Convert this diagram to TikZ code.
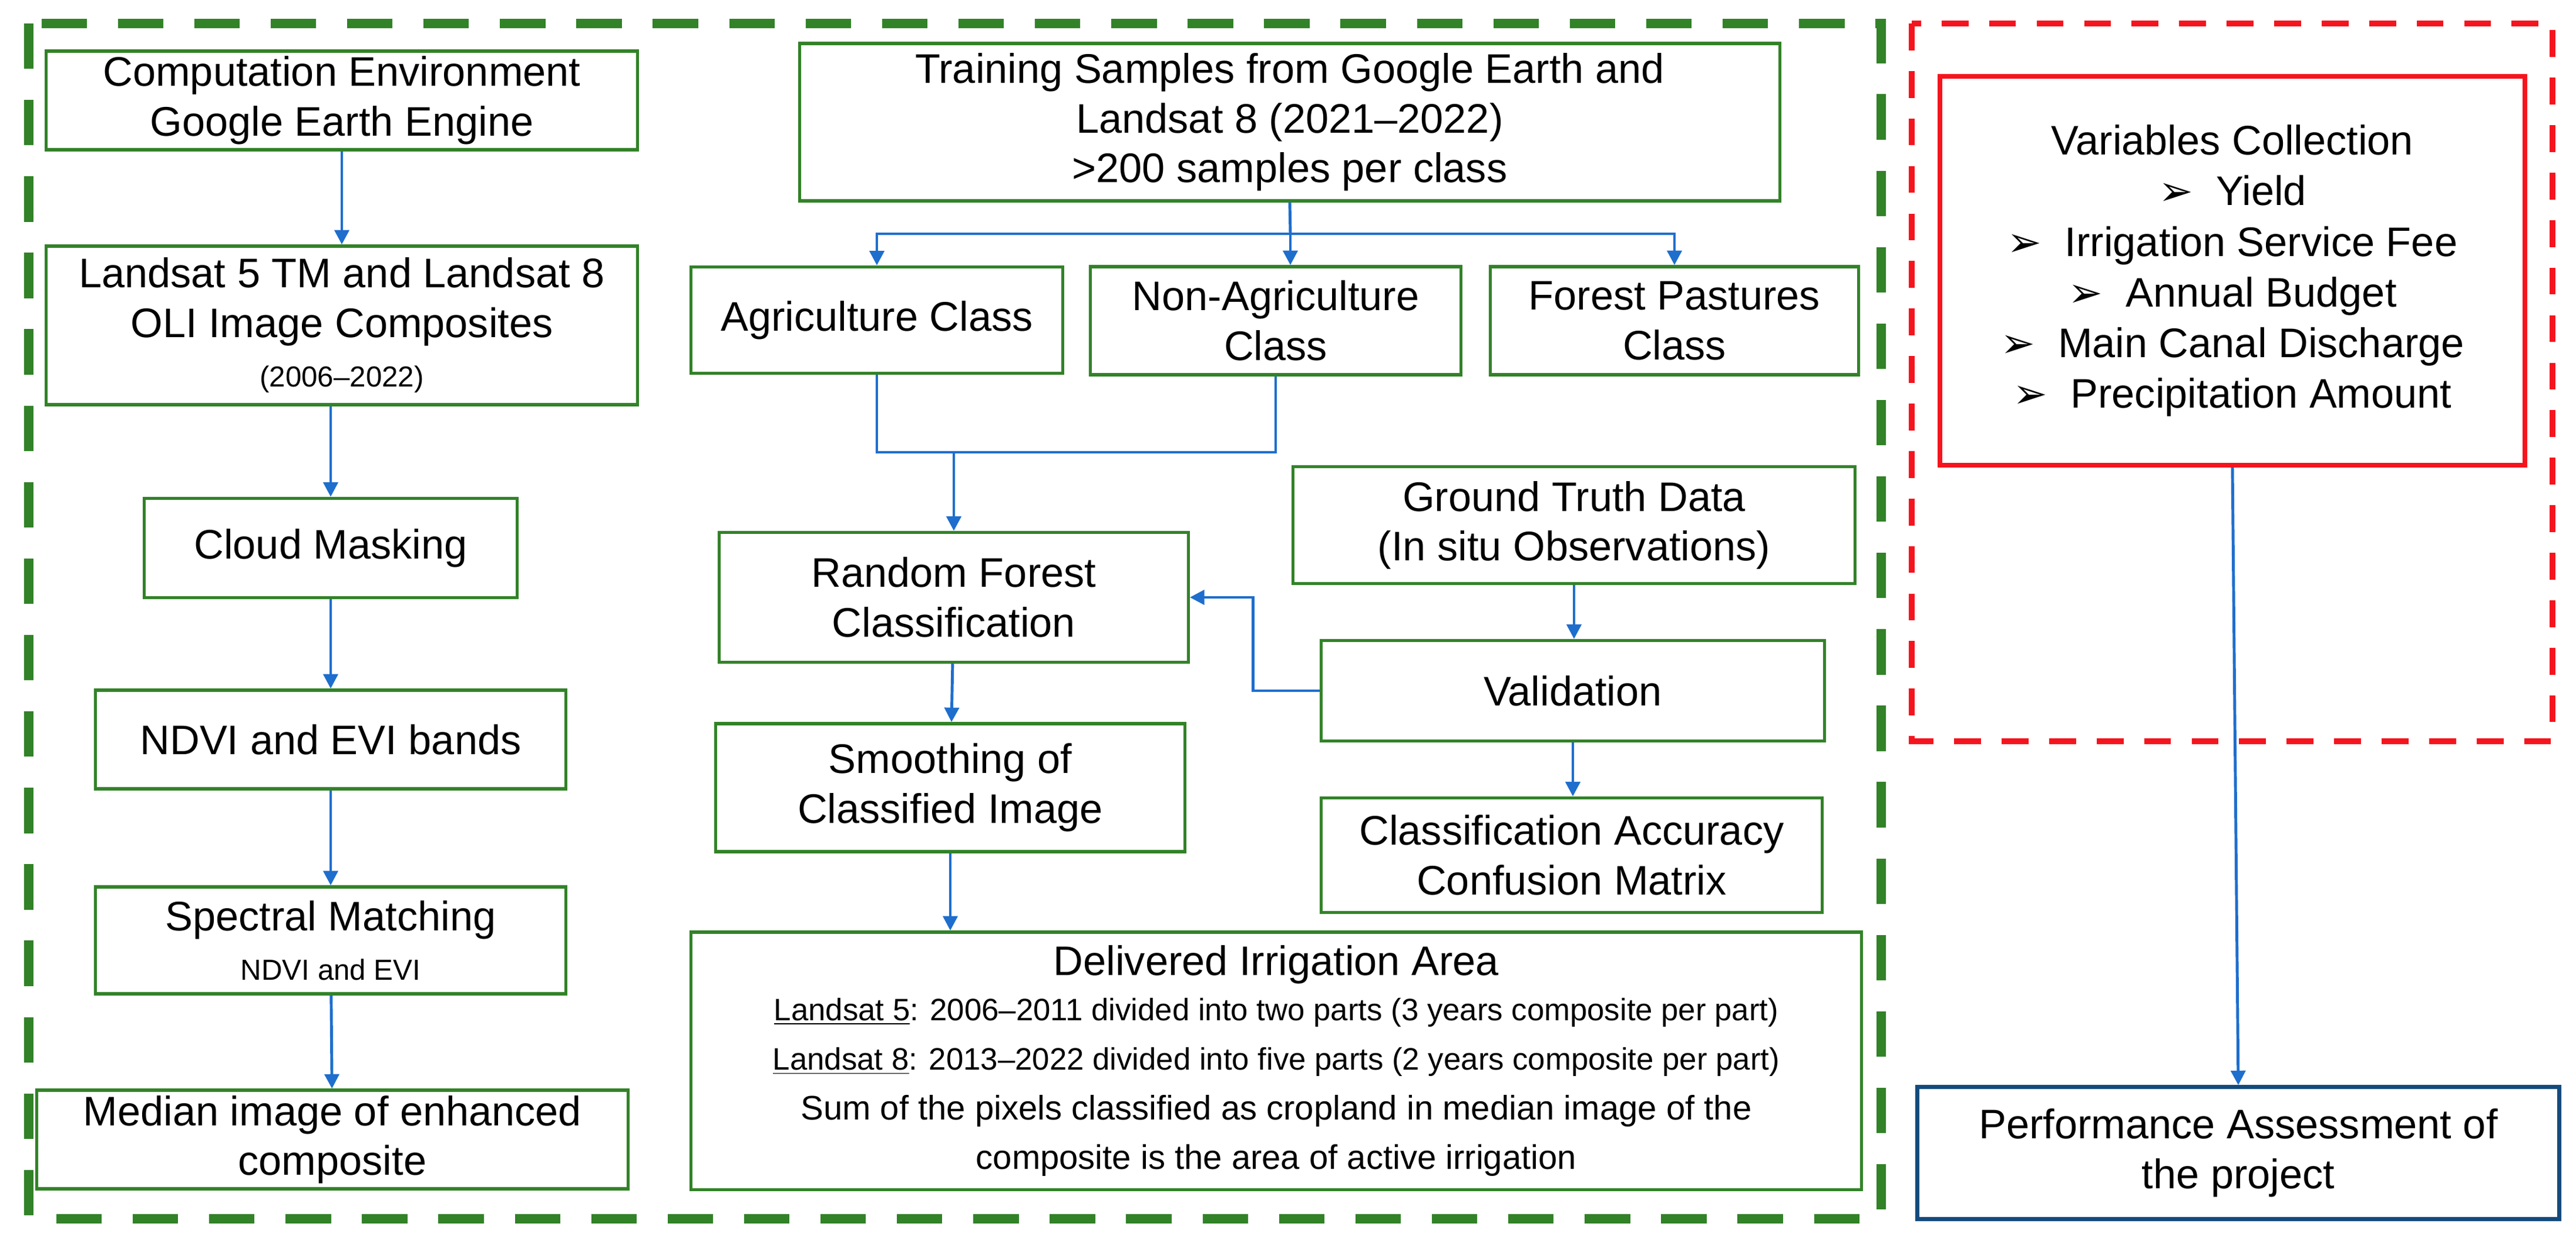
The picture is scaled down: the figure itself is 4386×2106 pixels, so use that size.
\documentclass[tikz,border=0pt]{standalone}
\usepackage{fontspec}
\setmainfont{Liberation Sans}
\newfontfamily\dv{DejaVu Sans}
\usetikzlibrary{arrows.meta,calc}
\definecolor{gr}{RGB}{50,130,40}
\definecolor{bl}{RGB}{30,110,205}
\definecolor{rd}{RGB}{245,20,30}
\definecolor{db}{RGB}{20,75,125}
\begin{document}
\begin{tikzpicture}[x=0.01cm,y=-0.01cm,
  box/.style={draw=gr,line width=1.5pt,align=center,inner sep=0pt,font=\fontsize{20}{24}\selectfont},
  arr/.style={draw=bl,line width=1.4pt,-{Triangle[length=7pt,width=7pt]}},
  ln/.style={draw=bl,line width=1.4pt}]
\useasboundingbox (0,0) rectangle (4386,2106);
\draw[gr,line width=4.3pt,dash pattern=on 22pt off 15pt] (49,40) rectangle (3203,2075);
\draw[rd,line width=3pt,dash pattern=on 13pt off 10pt] (3255,40) rectangle (4346,1262);
% left column
\node[box,minimum width=10.06cm,minimum height=1.68cm] (ce) at (582,171) {Computation Environment\\Google Earth Engine};
\node[box,minimum width=10.06cm,minimum height=2.70cm] (ls) at (582,554) {Landsat 5 TM and Landsat 8\\OLI Image Composites\\{\fontsize{14}{17}\selectfont(2006--2022)}};
\node[box,minimum width=6.34cm,minimum height=1.69cm] (cm) at (563,933) {Cloud Masking};
\node[box,minimum width=8.01cm,minimum height=1.68cm] (nd) at (563,1259) {NDVI and EVI bands};
\node[box,minimum width=8.01cm,minimum height=1.82cm] (sp) at (563,1601) {Spectral Matching\\{\fontsize{14}{17}\selectfont NDVI and EVI}};
\node[box,minimum width=10.07cm,minimum height=1.68cm] (me) at (566,1940) {Median image of enhanced\\composite};
\draw[arr] (ce) -- (ls);
\draw[arr] (ls.south -| cm.north) -- (cm.north);
\draw[arr] (cm) -- (nd);
\draw[arr] (nd) -- (sp);
\draw[arr] (sp) -- (me);
% middle
\node[box,minimum width=16.68cm,minimum height=2.68cm] (tr) at (2196,208) {Training Samples from Google Earth and\\Landsat 8 (2021--2022)\\>200 samples per class};
\node[box,minimum width=6.32cm,minimum height=1.81cm] (ag) at (1493,545) {Agriculture Class};
\node[box,minimum width=6.31cm,minimum height=1.84cm] (na) at (2172,546) {Non-Agriculture\\Class};
\node[box,minimum width=6.27cm,minimum height=1.84cm] (fp) at (2851,546) {Forest Pastures\\Class};
\coordinate (br) at (2197,398);
\draw[ln] (tr.south) -- (br);
\draw[arr] (br) -| (ag.north);
\draw[arr] (br) -| (fp.north);
\draw[arr] (br) -- (br |- na.north);
\node[box,minimum width=7.98cm,minimum height=2.21cm] (rf) at (1624,1017) {Random Forest\\Classification};
\coordinate (mg) at (1624,770);
\draw[ln] (ag.south) |- (mg);
\draw[ln] (na.south) |- (mg);
\draw[arr] (mg) -- (rf.north);
\node[box,minimum width=9.57cm,minimum height=1.99cm] (gt) at (2680,894) {Ground Truth Data\\(In situ Observations)};
\node[box,minimum width=8.56cm,minimum height=1.71cm] (va) at (2678,1176) {Validation};
\node[box,minimum width=8.53cm,minimum height=1.95cm] (ca) at (2676,1456) {Classification Accuracy\\Confusion Matrix};
\draw[arr] (gt) -- (gt.south |- va.north);
\draw[arr] (va) -- (va.south |- ca.north);
\draw[arr] (va.west) -- ++(-114,0) |- (rf.east);
\node[box,minimum width=7.99cm,minimum height=2.18cm] (sm) at (1618,1341) {Smoothing of\\Classified Image};
\draw[arr] (rf) -- (sm);
\node[box,minimum width=19.92cm,minimum height=4.38cm] (de) at (2173,1806) {Delivered Irrigation Area\\[-2pt]
{\fontsize{15}{22}\selectfont \underline{Landsat 5}: 2006--2011 divided into two parts (3 years composite per part)}\\
{\fontsize{15}{22}\selectfont \underline{Landsat 8}: 2013--2022 divided into five parts (2 years composite per part)}\\
{\fontsize{16.5}{22}\selectfont Sum of the pixels classified as cropland in median image of the}\\
{\fontsize{16.5}{22}\selectfont composite is the area of active irrigation}};
\draw[arr] (sm.south) -- (sm.south |- de.north);
% right
\node[draw=rd,line width=2.2pt,align=center,inner sep=0pt,minimum width=9.96cm,minimum height=6.62cm,font=\fontsize{20}{24.5}\selectfont] (vc) at (3801,461)
 {Variables Collection\\{\dv ➢}\ \ Yield\\{\dv ➢}\ \ Irrigation Service Fee\\{\dv ➢}\ \ Annual Budget\\{\dv ➢}\ \ Main Canal Discharge\\{\dv ➢}\ \ Precipitation Amount};
\node[draw=db,line width=2pt,align=center,inner sep=0pt,minimum width=10.93cm,minimum height=2.24cm,font=\fontsize{20}{24}\selectfont] (pa) at (3811,1963) {Performance Assessment of\\the project};
\draw[arr] (vc.south) -- (pa.north);
\draw[ln] ($(de.east)+(0,-36)$) -- ($(de.east)+(0,-36)$ -| pa.north);
\end{tikzpicture}
\end{document}
